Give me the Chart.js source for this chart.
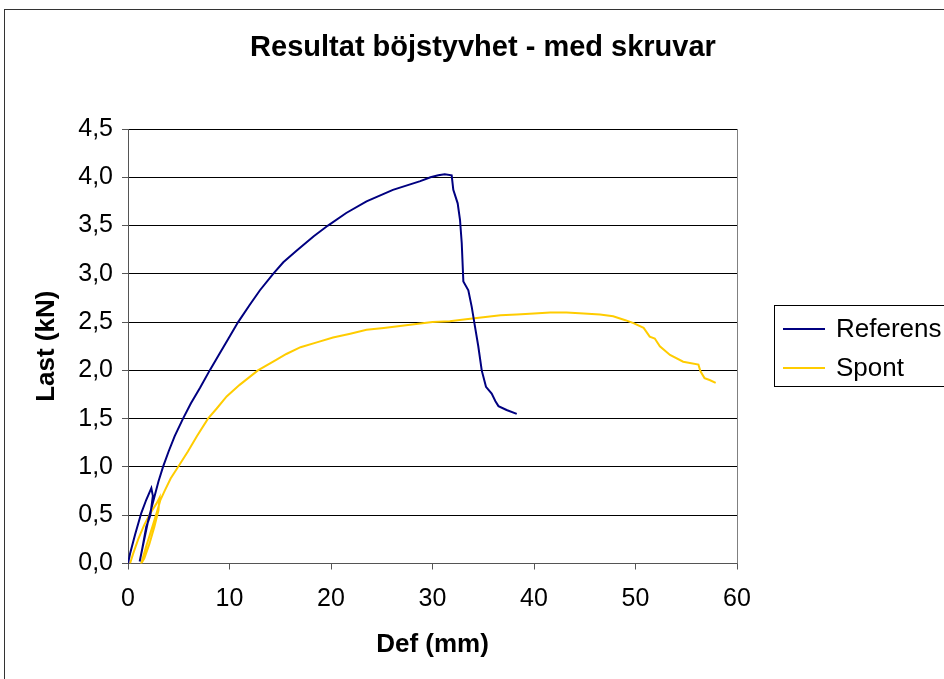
<!DOCTYPE html>
<html>
<head>
<meta charset="utf-8">
<script src="https://cdn.jsdelivr.net/npm/chart.js@4.4.1/dist/chart.umd.min.js"></script>
<style>
  html, body { margin: 0; padding: 0; background: #fff; overflow: hidden; }
  #wrap { position: relative; width: 944px; height: 679px; }
</style>
</head>
<body>
<div id="wrap"><canvas id="c" width="944" height="679"></canvas></div>
<script>
const chartTitle = 'Resultat böjstyvhet - med skruvar';
const xAxisTitle = 'Def (mm)';
const yAxisTitle = 'Last (kN)';
const seriesNames = ['Referens', 'Spont'];
const xTickLabels = ['0', '10', '20', '30', '40', '50', '60'];
const yTickLabels = ['0,0', '0,5', '1,0', '1,5', '2,0', '2,5', '3,0', '3,5', '4,0', '4,5'];

const referensDef = [0, 0.2, 0.7, 1.3, 1.8, 2.3, 2.45, 2.2, 1.8, 1.4, 1.15, 1.5, 2.0, 2.5, 3.0, 3.45, 4.0, 4.6, 5.42, 6.2, 7.1, 8.05, 9.0, 9.9, 10.85, 12.0, 13.0, 14.3, 15.3, 16.6, 18.3, 19.7, 21.5, 23.5, 26.1, 28.8, 29.8, 30.57, 31.2, 31.89, 32.05, 32.48, 32.71, 32.88, 33.04, 33.53, 33.86, 34.19, 34.51, 34.85, 35.27, 35.83, 36.2, 36.5, 37.3, 38.3];
const referensLast = [0, 0.1, 0.3, 0.52, 0.66, 0.78, 0.7, 0.5, 0.38, 0.15, 0.02, 0.2, 0.45, 0.65, 0.85, 1.0, 1.16, 1.32, 1.5, 1.66, 1.82, 2.0, 2.17, 2.33, 2.5, 2.68, 2.83, 3.0, 3.12, 3.24, 3.39, 3.5, 3.63, 3.75, 3.87, 3.96, 4.0, 4.02, 4.03, 4.02, 3.87, 3.73, 3.56, 3.32, 2.92, 2.83, 2.66, 2.45, 2.25, 2.0, 1.83, 1.76, 1.68, 1.63, 1.59, 1.55];

const spontDef = [0.2, 0.5, 1.0, 1.6, 2.2, 2.8, 3.1, 3.0, 2.6, 2.1, 1.6, 1.3, 1.8, 2.4, 2.9, 3.2, 3.6, 4.2, 4.93, 5.9, 6.8, 7.88, 8.7, 9.72, 11.0, 12.8, 14.6, 15.6, 17.0, 18.6, 20.2, 21.9, 23.5, 25.2, 26.8, 28.4, 30.0, 31.7, 33.3, 35.0, 36.7, 38.3, 40.0, 41.6, 43.2, 44.9, 46.5, 47.8, 49.0, 49.8, 50.8, 51.4, 51.9, 52.4, 53.4, 54.7, 56.2, 56.4, 56.8, 57.3, 57.9];
const spontLast = [0, 0.1, 0.25, 0.4, 0.52, 0.62, 0.68, 0.55, 0.38, 0.2, 0.05, 0.0, 0.18, 0.38, 0.55, 0.66, 0.75, 0.88, 1.0, 1.16, 1.32, 1.5, 1.6, 1.73, 1.85, 2.0, 2.11, 2.17, 2.24, 2.29, 2.34, 2.38, 2.42, 2.44, 2.46, 2.48, 2.5, 2.51, 2.53, 2.55, 2.57, 2.58, 2.59, 2.6, 2.6, 2.59, 2.58, 2.56, 2.52, 2.49, 2.44, 2.35, 2.33, 2.25, 2.16, 2.09, 2.06, 1.99, 1.92, 1.9, 1.87];

const seriesColors = ['#000080', '#FFCC00'];

function toPoints(xs, ys) { return xs.map((x, i) => ({ x: x, y: ys[i] })); }

const FONT = "'Liberation Sans', Arial, sans-serif";

const framePlugin = {
  id: 'frame',
  beforeDraw(chart) {
    const ctx = chart.ctx;
    ctx.save();
    ctx.fillStyle = '#fff';
    ctx.fillRect(0, 0, chart.width, chart.height);
    ctx.strokeStyle = '#333';
    ctx.lineWidth = 1;
    ctx.strokeRect(4.5, 9.5, 2000, 2000);
    ctx.restore();
  },
  afterDatasetsDraw(chart) {
    const ctx = chart.ctx;
    const a = chart.chartArea;
    ctx.save();
    ctx.strokeStyle = '#808080';
    ctx.lineWidth = 1;
    ctx.beginPath();
    ctx.moveTo(Math.round(a.right) + 0.5, a.top);
    ctx.lineTo(Math.round(a.right) + 0.5, a.bottom);
    ctx.stroke();
    ctx.restore();
  },
  afterDraw(chart) {
    const ctx = chart.ctx;
    ctx.save();
    ctx.strokeStyle = '#000';
    ctx.lineWidth = 1;
    ctx.strokeRect(774.5, 305.5, 400, 81);
    const rows = [329, 368];
    chart.data.datasets.forEach((ds, i) => {
      const y = rows[i];
      ctx.strokeStyle = ds.borderColor;
      ctx.lineWidth = 2;
      ctx.beginPath();
      ctx.moveTo(783, y);
      ctx.lineTo(825, y);
      ctx.stroke();
      ctx.fillStyle = '#000';
      ctx.font = '26px ' + FONT;
      ctx.textBaseline = 'middle';
      ctx.textAlign = 'left';
      ctx.fillText(ds.label, 836, y + 1);
    });
    ctx.restore();
  }
};

new Chart(document.getElementById('c'), {
  type: 'line',
  data: {
    datasets: [
      { label: seriesNames[0], data: toPoints(referensDef, referensLast), borderColor: seriesColors[0], backgroundColor: seriesColors[0], borderWidth: 2, pointRadius: 0, tension: 0, fill: false, yAxisID: 'y' },
      { label: seriesNames[1], data: toPoints(spontDef, spontLast), borderColor: seriesColors[1], backgroundColor: seriesColors[1], borderWidth: 2, pointRadius: 0, tension: 0, fill: false, yAxisID: 'y' }
    ]
  },
  options: {
    responsive: false,
    animation: false,
    devicePixelRatio: 1,
    layout: { padding: { left: 22, top: 0, right: 0, bottom: 0 } },
    plugins: {
      legend: { display: false },
      tooltip: { enabled: false },
      title: {
        display: true,
        text: chartTitle,
        color: '#000',
        font: { family: FONT, size: 29, weight: 'bold', lineHeight: 1.2 },
        padding: { top: 30.6, bottom: 63.6 }
      }
    },
    scales: {
      x: {
        type: 'linear',
        min: 0, max: 60,
        afterFit(s) { s.height = 115.5; },
        ticks: {
          stepSize: 10,
          color: '#000',
          font: { family: FONT, size: 25 },
          padding: 15,
          maxRotation: 0,
          callback: (v, i) => xTickLabels[i]
        },
        grid: { drawOnChartArea: false, drawTicks: true, tickLength: 6, tickColor: '#555' },
        border: { display: true, color: '#555', width: 1 },
        title: {
          display: true, text: xAxisTitle, color: '#000',
          font: { family: FONT, size: 26, weight: 'bold', lineHeight: 1.2 },
          padding: { top: 0, bottom: 18.4 }
        }
      },
      y: {
        type: 'linear',
        position: 'left',
        min: 0, max: 4.5,
        afterFit(s) { s.width = 106; },
        ticks: {
          stepSize: 0.5,
          color: '#000',
          font: { family: FONT, size: 25 },
          padding: 9,
          callback: (v, i) => yTickLabels[i]
        },
        grid: { color: '#000', lineWidth: 1, drawTicks: true, tickLength: 6, tickColor: '#555' },
        border: { display: true, color: '#555', width: 1 },
        title: {
          display: true, text: yAxisTitle, color: '#000',
          font: { family: FONT, size: 26, weight: 'bold', lineHeight: 1.2 },
          padding: { top: 9.4, bottom: 0 }
        }
      },
      yRight: {
        type: 'linear',
        position: 'right',
        display: true,
        afterFit(s) { s.width = 207; },
        ticks: { display: false },
        grid: { display: false, drawTicks: false },
        border: { display: false },
        title: { display: false }
      }
    }
  },
  plugins: [framePlugin]
});
</script>
</body>
</html>
